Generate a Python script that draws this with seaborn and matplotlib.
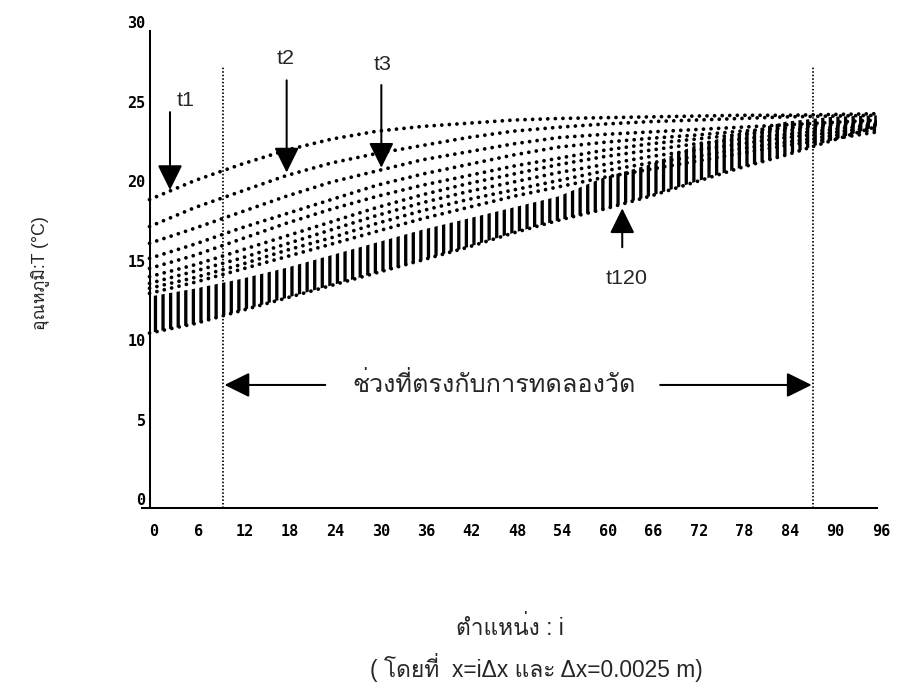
import numpy as np
import pandas as pd
import matplotlib
matplotlib.use("Agg")
import matplotlib.pyplot as plt
import matplotlib.transforms as mtransforms
from matplotlib import font_manager as fm
import seaborn as sns

# ---------------- data ----------------
X_POS = [0, 6, 12, 18, 24, 30, 36, 42, 48, 54, 60, 66, 72, 78, 84, 90, 96]

T1 = [19.4, 20.6, 21.6, 22.5, 23.2, 23.7, 24.0, 24.2, 24.4, 24.5, 24.55, 24.6, 24.65, 24.7, 24.7, 24.75, 24.8]
T2 = [17.7, 18.9, 19.9, 20.9, 21.7, 22.3, 22.8, 23.3, 23.7, 23.95, 24.15, 24.3, 24.4, 24.5, 24.6, 24.65, 24.7]
T3 = [16.65, 17.6, 18.6, 19.6, 20.5, 21.2, 21.9, 22.4, 22.9, 23.3, 23.5, 23.65, 23.8, 23.95, 24.1, 24.25, 24.4]
T4 = [15.7, 16.6, 17.6, 18.5, 19.4, 20.3, 21.0, 21.6, 22.2, 22.7, 23.0, 23.25, 23.45, 23.7, 23.9, 24.1, 24.3]
T5 = [15.07, 15.9, 16.9, 17.9, 18.8, 19.6, 20.3, 20.9, 21.5, 22.0, 22.5, 22.9, 23.2, 23.5, 23.75, 23.95, 24.2]
T6 = [14.55, 15.3, 16.2, 17.1, 18.0, 18.9, 19.7, 20.4, 21.0, 21.6, 22.1, 22.5, 22.9, 23.2, 23.5, 23.8, 24.1]
T7 = [14.13, 14.9, 15.7, 16.6, 17.5, 18.4, 19.2, 19.9, 20.5, 21.1, 21.6, 22.1, 22.5, 22.9, 23.3, 23.6, 23.95]
T8 = [13.82, 14.5, 15.3, 16.2, 17.0, 17.9, 18.7, 19.4, 20.0, 20.6, 21.2, 21.7, 22.1, 22.6, 23.0, 23.4, 23.8]
T9 = [13.5, 14.2, 15.0, 15.8, 16.6, 17.4, 18.2, 18.9, 19.6, 20.2, 20.8, 21.3, 21.8, 22.3, 22.8, 23.2, 23.65]

# dense band of later time steps (dots merge into vertical bars)
BAND_TOP = [13.3, 13.8, 14.4, 15.1, 15.9, 16.7, 17.5, 18.2, 18.9, 19.6, 20.8, 21.6, 22.8, 23.6, 24.3, 24.6, 24.7]
T120 = [11.0, 11.6, 12.4, 13.2, 14.0, 14.8, 15.6, 16.4, 17.3, 18.1, 18.8, 19.6, 20.5, 21.4, 22.2, 23.1, 24.0]

CURVE_NAMES = ["t1", "t2", "t3", "t4", "t5", "t6", "t7", "t8", "t9"]
CURVES = [T1, T2, T3, T4, T5, T6, T7, T8, T9]

X_TICKS = [0, 6, 12, 18, 24, 30, 36, 42, 48, 54, 60, 66, 72, 78, 84, 90, 96]
Y_TICKS = [0, 5, 10, 15, 20, 25, 30]

REGION_BOUNDS = [9.74, 87.6]          # dotted vertical lines (measured region)
REGION_TEXT = "ช่วงที่ตรงกับการทดลองวัด"
Y_LABEL = "อุณหภูมิ:T (°C)"
X_LABEL1 = "ตำแหน่ง : i"
X_LABEL2 = "( โดยที่  x=iΔx และ Δx=0.0025 m)"

# ---------------- fonts ----------------
def find_thai_family():
    try:
        from fontTools.ttLib import TTFont
    except Exception:
        return None
    seen = set()
    for f in fm.fontManager.ttflist:
        if f.name in seen:
            continue
        seen.add(f.name)
        try:
            tt = TTFont(f.fname, fontNumber=0, lazy=True)
            cmap = tt.getBestCmap()
            if cmap and 0x0E01 in cmap and 0x0E33 in cmap:
                return f.name
        except Exception:
            pass
    return None

sns.set_theme(style="white")
thai = find_thai_family()
TEXT_FAMILY = ["Liberation Sans", "DejaVu Sans"]
if thai:
    TEXT_FAMILY = ["Liberation Sans", thai, "DejaVu Sans"]
plt.rcParams["font.family"] = TEXT_FAMILY
plt.rcParams["hatch.linewidth"] = 2.6
plt.rcParams["hatch.color"] = "black"
plt.rcParams["lines.scale_dashes"] = False

DPI = 91
fig = plt.figure(figsize=(899 / DPI, 691 / DPI), dpi=DPI, facecolor="white")
ax = fig.add_axes([0.1579, 0.2648, 0.8174, 0.6903])
ax.set_facecolor("white")

# dot pattern: period of one x-unit (~7.6 px = 6.0 pt)
DOTS = (0, (0.01, 5.99))

# ---------------- dotted curves ----------------
rows = []
for name, vals in zip(CURVE_NAMES, CURVES):
    for xv, yv in zip(X_POS, vals):
        rows.append({"curve": name, "i": xv, "T": yv})
df = pd.DataFrame(rows)

sns.lineplot(data=df, x="i", y="T", units="curve", estimator=None, ax=ax,
             color="black", lw=3.0, linestyle=DOTS,
             dash_capstyle="round", legend=False)

# dense band of the later curves, drawn as vertical bars
ax.fill_between(X_POS, T120, BAND_TOP, facecolor="none", edgecolor="black",
                hatch="||", linewidth=0)
band_df = pd.DataFrame({"i": X_POS, "T": T120})
sns.lineplot(data=band_df, x="i", y="T", ax=ax, color="black", lw=3.0,
             linestyle=DOTS, dash_capstyle="round", legend=False)

# vertical dotted lines bounding the measured region
for xb in REGION_BOUNDS:
    ax.plot([xb, xb], [0, 27.8], color="black", lw=1.4, linestyle=(0, (1.2, 1.6)))

# ---------------- annotations ----------------
arrow_kw = dict(arrowstyle="-|>,head_length=0.85,head_width=0.42",
                color="black", lw=1.6, shrinkA=0, shrinkB=0, mutation_scale=20)
txt_kw = dict(fontsize=17, ha="center", va="center", family=TEXT_FAMILY)

ax.annotate("", xy=(2.7, 20.0), xytext=(2.7, 24.9), arrowprops=arrow_kw)
ax.text(4.7, 25.6, "t1", **txt_kw)
ax.annotate("", xy=(18.1, 21.1), xytext=(18.1, 26.9), arrowprops=arrow_kw)
ax.text(17.9, 28.3, "t2", **txt_kw)
ax.annotate("", xy=(30.6, 21.4), xytext=(30.6, 26.6), arrowprops=arrow_kw)
ax.text(30.8, 27.9, "t3", **txt_kw)
ax.annotate("", xy=(62.4, 18.85), xytext=(62.4, 16.4), arrowprops=arrow_kw)
ax.text(63.0, 14.45, "t120", **txt_kw)

ax.annotate("", xy=(9.9, 7.74), xytext=(23.2, 7.74), arrowprops=arrow_kw)
ax.annotate("", xy=(87.4, 7.74), xytext=(67.4, 7.74), arrowprops=arrow_kw)
ax.text(45.5, 7.74, REGION_TEXT, fontsize=20, ha="center", va="center",
        family=TEXT_FAMILY)

# ---------------- axes styling ----------------
ax.set_xlim(-1, 96)
ax.set_ylim(0, 30)
for s in ["top", "right"]:
    ax.spines[s].set_visible(False)
ax.spines["left"].set_position(("data", 0))
ax.spines["bottom"].set_position(("data", 0))
for s in ["left", "bottom"]:
    ax.spines[s].set_color("black")
    ax.spines[s].set_linewidth(1.6)

ax.set_xticks(X_TICKS)
ax.set_yticks(Y_TICKS)
ax.set_xticklabels([str(v) for v in X_TICKS])
ax.set_yticklabels([str(v) for v in Y_TICKS])
ax.tick_params(axis="x", direction="out", length=7, width=1.6, pad=6, colors="black")
ax.tick_params(axis="y", direction="out", length=5, width=1.6, pad=-2, colors="black")
tick_font = dict(family="DejaVu Sans Mono", weight="bold", size=12)
shift = mtransforms.ScaledTranslation(4 / DPI, 0, fig.dpi_scale_trans)
for lab in ax.get_xticklabels():
    lab.set_fontproperties(fm.FontProperties(**tick_font))
    lab.set_transform(lab.get_transform() + shift)
for lab in ax.get_yticklabels():
    lab.set_fontproperties(fm.FontProperties(**tick_font))
    lab.set_va("bottom")
ax.set_xlabel("")
ax.set_ylabel("")
ax.grid(False)

# axis titles (figure coordinates)
fig.text(40 / 899, 1 - 273 / 691, Y_LABEL, rotation=90, ha="center", va="center",
         fontsize=14, family=TEXT_FAMILY)
fig.text(510 / 899, 1 - 628 / 691, X_LABEL1, ha="center", va="center",
         fontsize=18, family=TEXT_FAMILY)
fig.text(536 / 899, 1 - 668 / 691, X_LABEL2, ha="center", va="center",
         fontsize=18, family=TEXT_FAMILY)

fig.savefig("out.png", dpi=DPI, facecolor="white")
